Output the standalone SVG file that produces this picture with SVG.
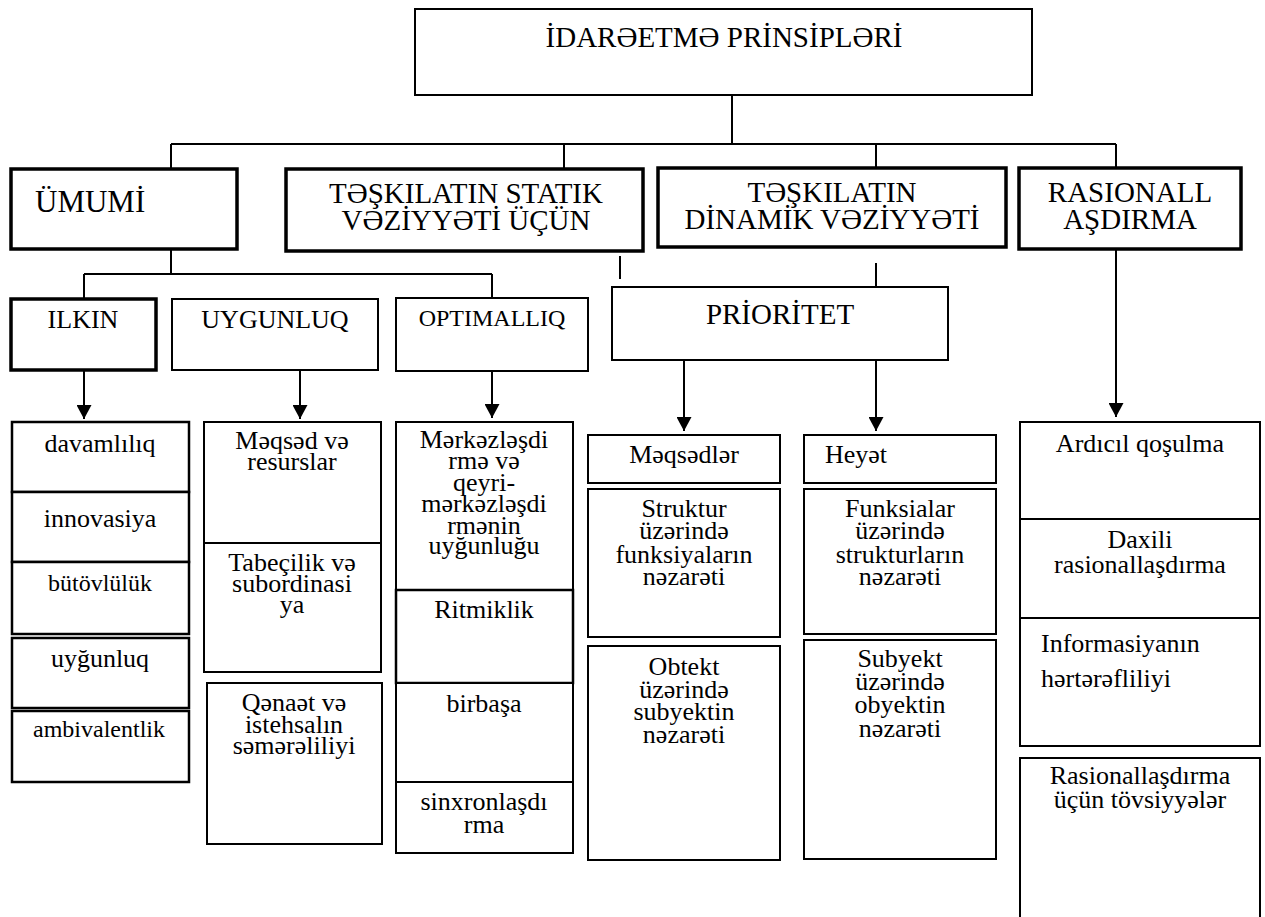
<svg xmlns="http://www.w3.org/2000/svg" width="1265" height="917" viewBox="0 0 1265 917">
<style>
.t{font-family:"Liberation Serif","Times New Roman",serif;fill:#000;text-anchor:middle;font-size:26px}
.s{text-anchor:start}
.h{font-size:29px}
.f31{font-size:31px}
.f24{font-size:24px}
.b{fill:#fff;stroke:#000;stroke-width:2}
.k{stroke-width:3.5}
.m{stroke-width:2.5}
.ln{stroke:#000;stroke-width:2;fill:none}
</style>
<defs>
<marker id="ah" markerUnits="userSpaceOnUse" markerWidth="15" markerHeight="15" refX="14" refY="7.5" orient="auto" viewBox="0 0 15 15">
<path d="M0,0 L14,7.5 L0,15 z" fill="#000"/>
</marker>
</defs>
<rect width="1265" height="917" fill="#fff"/>

<g id="connectors">
<path class="ln" d="M732,95 V144 M171,144 H1116 M171,144 V169 M564,144 V169 M876,144 V168 M1116,144 V168"/>
<path class="ln" d="M171,249 V274 M84,274 H492 M84,274 V299 M492,274 V298"/>
<path class="ln" d="M620,256 V279 M876,263 V287"/>
<path class="ln" d="M84,370 V419" marker-end="url(#ah)"/>
<path class="ln" d="M300,370 V419" marker-end="url(#ah)"/>
<path class="ln" d="M492,371 V418" marker-end="url(#ah)"/>
<path class="ln" d="M684,360 V431" marker-end="url(#ah)"/>
<path class="ln" d="M876,360 V431" marker-end="url(#ah)"/>
<path class="ln" d="M1116,249 V417" marker-end="url(#ah)"/>
</g>

<g id="root"><rect class="b" x="415" y="9" width="617" height="86"/><text class="t h" x="724" y="47">İDARƏETMƏ PRİNSİPLƏRİ</text></g>

<g id="umumi"><rect class="b k" x="11" y="169" width="226" height="80"/><text class="t s f31" x="35" y="212">ÜMUMİ</text></g>
<g id="statik"><rect class="b k" x="286" y="169" width="357" height="82"/><text class="t h" x="466" y="203">TƏŞKILATIN STATIK</text><text class="t h" x="466" y="230">VƏZİYYƏTİ ÜÇÜN</text></g>
<g id="dinamik"><rect class="b k" x="658" y="168" width="348" height="79"/><text class="t h" x="832" y="202">TƏŞKILATIN</text><text class="t h" x="832" y="229">DİNAMİK VƏZİYYƏTİ</text></g>
<g id="rasional"><rect class="b k" x="1019" y="168" width="222" height="81"/><text class="t h" x="1130" y="202">RASIONALL</text><text class="t h" x="1130" y="229">AŞDIRMA</text></g>

<g id="ilkin"><rect class="b k" x="11" y="299" width="145" height="71"/><text class="t" x="83" y="328">ILKIN</text></g>
<g id="uygunluq"><rect class="b" x="172" y="299" width="206" height="71"/><text class="t" x="275" y="328">UYGUNLUQ</text></g>
<g id="optimalliq"><rect class="b" x="396" y="298" width="192" height="73"/><text class="t f24" x="492" y="326">OPTIMALLIQ</text></g>
<g id="prioritet"><rect class="b" x="612" y="287" width="336" height="73"/><text class="t h" x="780" y="324">PRİORİTET</text></g>

<g id="davamliliq"><rect class="b m" x="12" y="422" width="177" height="70"/><text class="t" x="100" y="452">davamlılıq</text></g>
<g id="innovasiya"><rect class="b m" x="12" y="492" width="177" height="70"/><text class="t" x="100" y="527">innovasiya</text></g>
<g id="butovluluk"><rect class="b m" x="12" y="562" width="177" height="72"/><text class="t f24" x="100" y="591">bütövlülük</text></g>
<g id="uygunluq2"><rect class="b m" x="12" y="638" width="177" height="70"/><text class="t" x="100" y="667">uyğunluq</text></g>
<g id="ambivalentlik"><rect class="b m" x="12" y="711" width="177" height="71"/><text class="t f24" x="99" y="737">ambivalentlik</text></g>

<g id="meqsed"><rect class="b" x="204" y="422" width="177" height="121"/><text class="t" x="292" y="449">Məqsəd və</text><text class="t" x="292" y="470">resurslar</text></g>
<g id="tabecilik"><rect class="b" x="204" y="543" width="177" height="129"/><text class="t" x="292" y="571">Tabeçilik və</text><text class="t" x="292" y="592">subordinasi</text><text class="t" x="292" y="613">ya</text></g>
<g id="qenaet"><rect class="b" x="207" y="683" width="175" height="161"/><text class="t" x="294" y="711">Qənaət və</text><text class="t" x="294" y="733">istehsalın</text><text class="t" x="294" y="754">səmərəliliyi</text></g>

<g id="merkezlesdirme"><rect class="b" x="396" y="422" width="177" height="168"/><text class="t" x="484" y="448">Mərkəzləşdi</text><text class="t" x="484" y="469">rmə və</text><text class="t" x="484" y="491">qeyri-</text><text class="t" x="484" y="512">mərkəzləşdi</text><text class="t" x="484" y="534">rmənin</text><text class="t" x="484" y="554">uyğunluğu</text></g>
<g id="ritmiklik"><rect class="b m" x="396" y="590" width="177" height="93"/><text class="t" x="484" y="618">Ritmiklik</text></g>
<g id="birbasa"><rect class="b" x="396" y="683" width="177" height="99"/><text class="t" x="484" y="712">birbaşa</text></g>
<g id="sinxron"><rect class="b" x="396" y="782" width="177" height="71"/><text class="t" x="484" y="810">sinxronlaşdı</text><text class="t" x="484" y="833">rma</text></g>

<g id="meqsedler"><rect class="b" x="588" y="435" width="192" height="48"/><text class="t" x="684" y="463">Məqsədlər</text></g>
<g id="struktur"><rect class="b" x="588" y="489" width="192" height="148"/><text class="t" x="684" y="517">Struktur</text><text class="t" x="684" y="539">üzərində</text><text class="t" x="684" y="563">funksiyaların</text><text class="t" x="684" y="585">nəzarəti</text></g>
<g id="obtekt"><rect class="b" x="588" y="646" width="192" height="214"/><text class="t" x="684" y="675">Obtekt</text><text class="t" x="684" y="698">üzərində</text><text class="t" x="684" y="720">subyektin</text><text class="t" x="684" y="743">nəzarəti</text></g>

<g id="heyet"><rect class="b" x="804" y="435" width="192" height="48"/><text class="t s" x="825" y="463">Heyət</text></g>
<g id="funksialar"><rect class="b" x="804" y="489" width="192" height="145"/><text class="t" x="900" y="517">Funksialar</text><text class="t" x="900" y="539">üzərində</text><text class="t" x="900" y="563">strukturların</text><text class="t" x="900" y="585">nəzarəti</text></g>
<g id="subyekt"><rect class="b" x="804" y="640" width="192" height="219"/><text class="t" x="900" y="667">Subyekt</text><text class="t" x="900" y="690">üzərində</text><text class="t" x="900" y="713">obyektin</text><text class="t" x="900" y="737">nəzarəti</text></g>

<g id="ardicil"><rect class="b" x="1020" y="422" width="240" height="97"/><text class="t" x="1140" y="452">Ardıcıl qoşulma</text></g>
<g id="daxili"><rect class="b" x="1020" y="519" width="240" height="99"/><text class="t" x="1140" y="548">Daxili</text><text class="t" x="1140" y="573">rasionallaşdırma</text></g>
<g id="informasiya"><rect class="b" x="1020" y="618" width="240" height="128"/><text class="t s" x="1041" y="652">Informasiyanın</text><text class="t s" x="1041" y="687">hərtərəfliliyi</text></g>
<g id="tovsiyye"><rect class="b" x="1020" y="758" width="240" height="170"/><text class="t" x="1140" y="784">Rasionallaşdırma</text><text class="t" x="1140" y="808">üçün tövsiyyələr</text></g>
</svg>
